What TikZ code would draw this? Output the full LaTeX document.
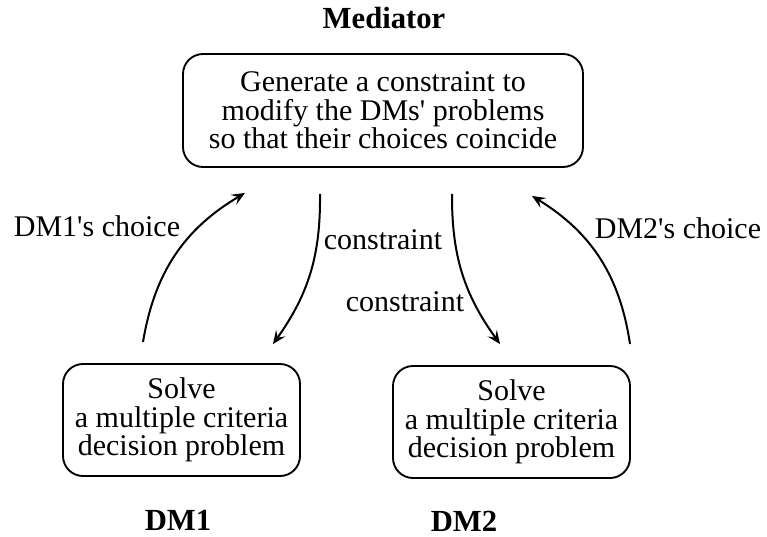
\documentclass[tikz,border=0pt]{standalone}
\usepackage{fontspec}
\setmainfont{Liberation Serif}[Ligatures=TeXOff]
\usetikzlibrary{arrows,arrows.meta}
\tikzset{font=\fontsize{22.5}{21.5}\selectfont}
\tikzset{every node/.append style={transform shape=false}}

\begin{document}
\begin{tikzpicture}[x=0.75pt,y=0.75pt,
  task/.style={draw,line width=1.4pt,rounded corners=15pt,align=center,inner sep=0pt},
  who/.style={font=\fontsize{23}{21.5}\selectfont\bfseries},
  flow/.style={line width=1.5pt,-{Stealth[length=10pt,width=8.5pt,inset=4pt]}}]
\useasboundingbox (0,0) rectangle (767,-536);
  \node [task,minimum width=300pt,minimum height=84.75pt] (med) at (383,-110.5)
        {Generate a constraint to\\modify the DMs' problems\\so that their choices coincide};
  \node [task,minimum width=177.75pt,minimum height=84pt] (dmone) at (181.5,-420)
        {Solve\\a multiple criteria\\decision problem};
  \node [task,minimum width=177.75pt,minimum height=84pt] (dmtwo) at (511.5,-422)
        {Solve\\a multiple criteria\\decision problem};
\node[who] (medname) at (384,-18) {Mediator};
\node[who] (dmonename) at (178,-520) {DM1};
\node[who] (dmtwoname) at (464,-521) {DM2};
\draw[flow] ([shift={(-38.5,21)}]dmone.north) to[bend left=25] ([shift={(-138,-25)}]med.south);
\draw[flow] ([shift={(-63,-26)}]med.south) to[bend left=18] ([shift={(91.5,19)}]dmone.north);
\draw[flow] ([shift={(69,-26)}]med.south) to[bend right=18] ([shift={(-11.5,21)}]dmtwo.north);
\draw[flow] ([shift={(118.5,21)}]dmtwo.north) to[bend right=25] ([shift={(149,-28)}]med.south);
\node (chone) at (97,-226) {DM1's choice};
\node (conone) at (383,-240) {constraint};
\node (contwo) at (405,-302) {constraint};
\node (chtwo) at (678,-228) {DM2's choice};
\end{tikzpicture}
\end{document}
